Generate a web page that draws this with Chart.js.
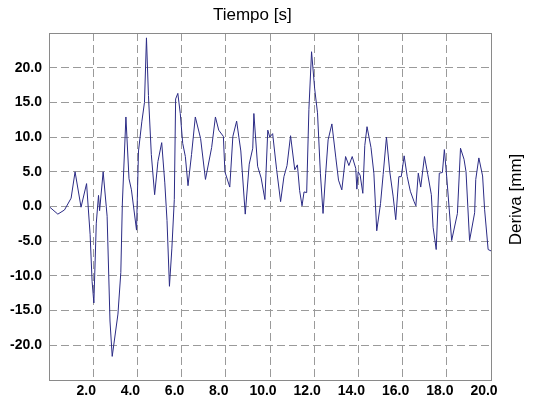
<!DOCTYPE html>
<html>
<head>
<meta charset="utf-8">
<script src="https://cdn.jsdelivr.net/npm/chart.js@4"></script>
<style>
  body { margin: 0; background: #fff; }
  canvas { display: block; }
</style>
</head>
<body>
<canvas id="myChart" width="556" height="404"></canvas>
<script>
// valores
var tiempo = [
    0.0, 0.4, 0.7, 1.0, 1.18, 1.45, 1.7, 1.86, 1.95, 2.03,
    2.14, 2.24, 2.29, 2.45, 2.63, 2.76, 2.86, 3.12, 3.25, 3.32,
    3.48, 3.62, 3.73, 3.96, 4.05, 4.2, 4.32, 4.41, 4.5, 4.63,
    4.78, 4.93, 5.1, 5.24, 5.34, 5.45, 5.56, 5.67, 5.73, 5.83,
    5.94, 6.05, 6.17, 6.29, 6.45, 6.62, 6.86, 7.08, 7.36, 7.53,
    7.68, 7.89, 7.96, 8.18, 8.32, 8.49, 8.68, 8.88, 9.06, 9.22,
    9.27, 9.44, 9.6, 9.77, 9.9, 9.99, 10.12, 10.3, 10.48, 10.63,
    10.77, 10.93, 11.12, 11.24, 11.34, 11.45, 11.54, 11.66, 11.76, 11.88,
    12.02, 12.15, 12.28, 12.4, 12.52, 12.63, 12.8, 12.98, 13.1, 13.25,
    13.42, 13.57, 13.72, 13.88, 13.93, 13.99, 14.08, 14.2, 14.29, 14.39,
    14.57, 14.7, 14.83, 15.0, 15.12, 15.27, 15.42, 15.57, 15.69, 15.83,
    15.94, 16.07, 16.21, 16.35, 16.52, 16.6, 16.71, 16.82, 16.99, 17.14,
    17.3, 17.38, 17.52, 17.66, 17.8, 17.89, 18.0, 18.22, 18.48, 18.62,
    18.78, 18.87, 19.03, 19.26, 19.31, 19.45, 19.62, 19.71, 19.87, 20.0
];
var deriva = [
    0.0, -1.1, -0.5, 1.2, 5.0, -0.1, 3.3, -4.0, -10.8, -13.9,
    -2.4, 1.6, -0.6, 5.0, -1.4, -16.5, -21.6, -15.5, -9.5, 0.5,
    12.9, 4.0, 2.4, -3.4, 8.0, 12.2, 15.0, 24.3, 16.0, 7.5,
    1.7, 6.5, 9.2, 3.4, -2.0, -11.5, -6.0, 1.0, 15.5, 16.3,
    13.4, 9.1, 7.2, 3.0, 7.5, 12.9, 9.8, 3.9, 8.5, 12.9,
    11.0, 10.1, 5.0, 2.8, 10.1, 12.3, 8.0, -1.1, 6.1, 8.4,
    13.4, 5.8, 4.1, 1.0, 11.0, 10.0, 10.5, 5.3, 0.7, 4.3,
    5.9, 10.2, 5.3, 6.0, 2.3, 0.1, 2.1, 2.0, 14.0, 22.3,
    17.0, 13.5, 4.8, -1.0, 4.8, 9.6, 11.9, 7.0, 3.8, 2.4,
    7.2, 5.9, 7.2, 5.5, 2.5, 5.0, 4.5, 1.9, 8.8, 11.5,
    8.5, 4.8, -3.5, 0.4, 4.6, 10.0, 5.0, 1.5, -1.9, 4.3,
    4.3, 7.3, 4.3, 2.2, 0.7, 0.1, 4.8, 2.8, 7.2, 4.6,
    1.7, -3.0, -6.2, 4.8, 4.9, 8.2, 4.1, -4.9, -1.0, 8.4,
    6.8, 5.0, -4.9, -0.9, 3.9, 7.0, 4.4, -0.4, -6.2, -6.4
];

var tituloX = 'Tiempo [s]';
var tituloY = 'Deriva [mm]';

var puntos = [];
for (var i = 0; i < tiempo.length; i++) {
    puntos.push({x: tiempo[i], y: deriva[i]});
}

var gridGray = '#9a9a9a';
var borderGray = '#8a8a8a';
var tickFont = {family: 'Liberation Sans, Arial, sans-serif', size: 14, weight: 'bold'};

// marco del area y titulos (el de la derecha va de abajo hacia arriba)
var framePlugin = {
    id: 'frame',
    afterDraw: function (chart) {
        var ctx = chart.ctx;
        var a = chart.chartArea;
        ctx.save();
        ctx.strokeStyle = borderGray;
        ctx.lineWidth = 1;
        ctx.strokeRect(a.left + 0.5, a.top + 0.5, a.right - a.left, a.bottom - a.top);

        ctx.fillStyle = '#000';
        ctx.font = '17px "Liberation Sans", Arial, sans-serif';
        ctx.textAlign = 'center';
        ctx.textBaseline = 'middle';
        ctx.fillText(tituloX, a.left + (a.right - a.left) * 0.46, 15);

        ctx.translate(a.right + 25, (a.top + a.bottom) / 2 - 7);
        ctx.rotate(-Math.PI / 2);
        ctx.fillText(tituloY, 0, 0);
        ctx.restore();
    }
};

var ctx = document.getElementById('myChart').getContext('2d');
var chart = new Chart(ctx, {
    type: 'line',
    data: {
        datasets: [{
            data: puntos,
            borderColor: '#2b2b85',
            borderWidth: 1,
            pointRadius: 0,
            tension: 0,
            fill: false
        }]
    },
    options: {
        responsive: false,
        animation: false,
        devicePixelRatio: 1,
        layout: {padding: {top: 33, right: 65, left: 0, bottom: 0}},
        plugins: {
            legend: {display: false},
            tooltip: {enabled: false}
        },
        scales: {
            x: {
                type: 'linear',
                min: 0,
                max: 20,
                afterFit: function (scale) { scale.height = 24; },
                border: {display: false},
                grid: {
                    drawTicks: false,
                    color: function (c) {
                        var v = c.tick ? c.tick.value : 0;
                        return (v <= 0 || v >= 20) ? 'rgba(0,0,0,0)' : gridGray;
                    }
                },
                border: {display: false, dash: [8, 4]},
                ticks: {
                    stepSize: 2,
                    padding: 3,
                    labelOffset: -7,
                    color: '#000',
                    font: tickFont,
                    maxRotation: 0,
                    autoSkip: false,
                    callback: function (v) { return v === 0 ? '' : v.toFixed(1); }
                }
            },
            y: {
                min: -25,
                max: 25,
                afterFit: function (scale) { scale.width = 49; },
                grid: {
                    drawTicks: false,
                    color: function (c) {
                        var v = c.tick ? c.tick.value : 0;
                        return (Math.abs(v) >= 25) ? 'rgba(0,0,0,0)' : gridGray;
                    }
                },
                border: {display: false, dash: [8, 4]},
                ticks: {
                    stepSize: 5,
                    padding: 7,
                    color: '#000',
                    font: tickFont,
                    autoSkip: false,
                    callback: function (v) { return Math.abs(v) >= 25 ? '' : v.toFixed(1); }
                }
            }
        }
    },
    plugins: [framePlugin]
});
</script>
</body>
</html>
